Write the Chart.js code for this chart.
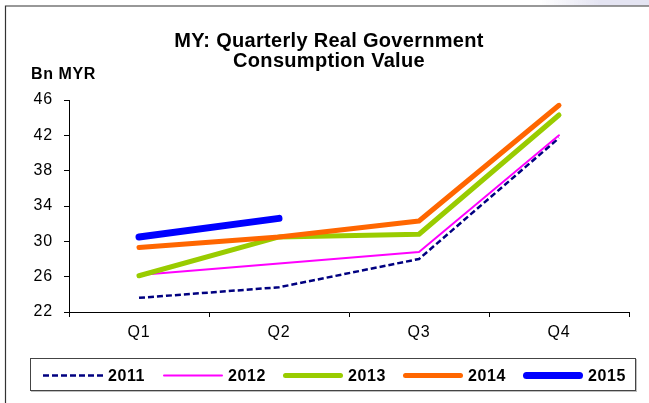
<!DOCTYPE html>
<html>
<head>
<meta charset="utf-8">
<title>MY: Quarterly Real Government Consumption Value</title>
<script src="https://cdn.jsdelivr.net/npm/chart.js@4.4.1/dist/chart.umd.min.js"></script>
<style>
    html, body { margin: 0; padding: 0; background: #fff; }
    #chartWrap { position: relative; width: 649px; height: 403px; }
    #chartWrap canvas { background: #fff; }
</style>
</head>
<body>
<div id="chartWrap"><canvas id="govChart"></canvas></div>
<script>
const QUARTERS = ['Q1', 'Q2', 'Q3', 'Q4'];
const YEARS = ['2011', '2012', '2013', '2014', '2015'];
const Y_TICKS = [22, 26, 30, 34, 38, 42, 46];

const VALUES_2011 = [23.6, 24.8, 28.0, 41.7];
const VALUES_2012 = [26.2, 27.5, 28.8, 42.0];
const VALUES_2013 = [26.1, 30.5, 30.8, 44.3];
const VALUES_2014 = [29.3, 30.5, 32.3, 45.4];
const VALUES_2015 = [30.5, 32.6];

const TITLE_LINES = ['MY: Quarterly Real Government', 'Consumption Value'];
const UNIT_LABEL = 'Bn MYR';

const FONT = '"Liberation Sans", Arial, Helvetica, sans-serif';

const SERIES_STYLE = [
    { color: '#000080', width: 2.5, dash: [6, 3], cap: 'butt' },
    { color: '#ff00ff', width: 2, dash: [], cap: 'round' },
    { color: '#99cc00', width: 5, dash: [], cap: 'round' },
    { color: '#ff6600', width: 5, dash: [], cap: 'round' },
    { color: '#0000ff', width: 7, dash: [], cap: 'round' },
];

const SERIES_VALUES = [VALUES_2011, VALUES_2012, VALUES_2013, VALUES_2014, VALUES_2015];

// frame, corner tint, title and unit label behind the plot
const backdropPlugin = {
    id: 'backdrop',
    beforeDraw(chart) {
        const { ctx, width, height } = chart;
        ctx.save();

        const tint = ctx.createLinearGradient(540, 0, 600, 0);
        tint.addColorStop(0, 'rgba(228,228,242,0)');
        tint.addColorStop(1, 'rgba(228,228,242,1)');
        ctx.fillStyle = tint;
        ctx.fillRect(540, 0, width - 540, 5.5);

        ctx.strokeStyle = '#333';
        ctx.lineWidth = 1.2;
        ctx.beginPath();
        ctx.moveTo(width, 6);
        ctx.lineTo(5.5, 6);
        ctx.lineTo(5.5, height);
        ctx.stroke();

        ctx.fillStyle = '#000';
        ctx.textAlign = 'center';
        ctx.textBaseline = 'alphabetic';
        ctx.font = `bold 20px ${FONT}`;
        ctx.letterSpacing = '0.3px';
        ctx.fillText(TITLE_LINES[0], 329, 47);
        ctx.fillText(TITLE_LINES[1], 329, 67);

        ctx.textAlign = 'left';
        ctx.font = `bold 16px ${FONT}`;
        ctx.letterSpacing = '0.6px';
        ctx.fillText(UNIT_LABEL, 31, 79);
        ctx.restore();

        // slightly wider spacing for the axis labels drawn after this hook
        ctx.letterSpacing = '0.8px';
    },
};

// boxed legend under the axis, one sample line per dataset
const boxLegendPlugin = {
    id: 'boxLegend',
    afterDraw(chart) {
        const { ctx } = chart;
        ctx.save();
        ctx.letterSpacing = '0.6px';

        ctx.fillStyle = 'rgba(0,0,0,0.25)';
        ctx.fillRect(31, 359, 606, 33);
        ctx.fillStyle = '#fff';
        ctx.fillRect(30, 358, 606, 33);
        ctx.strokeStyle = '#444';
        ctx.lineWidth = 1;
        ctx.strokeRect(30.5, 358.5, 605, 32);

        const midY = 375.5;
        chart.data.datasets.forEach((ds, i) => {
            const x0 = 43 + i * 120;
            ctx.save();
            ctx.strokeStyle = ds.borderColor;
            ctx.lineWidth = ds.borderWidth;
            ctx.lineCap = ds.borderCapStyle;
            ctx.setLineDash(ds.borderDash || []);
            const inset = ds.borderCapStyle === 'round' ? ds.borderWidth / 2 : 0;
            ctx.beginPath();
            ctx.moveTo(x0 + inset, midY);
            ctx.lineTo(x0 + 60 - inset, midY);
            ctx.stroke();
            ctx.restore();

            ctx.fillStyle = '#000';
            ctx.font = `bold 16px ${FONT}`;
            ctx.textAlign = 'left';
            ctx.textBaseline = 'middle';
            ctx.fillText(ds.label, x0 + 65, midY + 1);
        });
        ctx.restore();
    },
};

document.addEventListener('DOMContentLoaded', () => {
    const canvas = document.getElementById('govChart');

    const datasets = YEARS.map((year, i) => ({
        label: year,
        data: SERIES_VALUES[i],
        borderColor: SERIES_STYLE[i].color,
        backgroundColor: SERIES_STYLE[i].color,
        borderWidth: SERIES_STYLE[i].width,
        borderDash: SERIES_STYLE[i].dash,
        borderCapStyle: SERIES_STYLE[i].cap,
        borderJoinStyle: 'round',
        pointRadius: 0,
        pointHoverRadius: 0,
        tension: 0,
        fill: false,
        order: YEARS.length - i,
    }));

    new Chart(canvas, {
        type: 'line',
        data: { labels: QUARTERS, datasets },
        options: {
            responsive: true,
            maintainAspectRatio: false,
            animation: false,
            events: [],
            layout: { padding: { top: 100, right: 20, bottom: 0, left: 0 } },
            plugins: {
                legend: { display: false },
                title: { display: false },
                tooltip: { enabled: false },
            },
            scales: {
                x: {
                    type: 'category',
                    offset: true,
                    afterFit: (scale) => { scale.height = 91; },
                    border: { color: '#000', width: 1 },
                    grid: {
                        offset: true,
                        drawOnChartArea: false,
                        drawTicks: true,
                        tickLength: 5,
                        tickColor: '#000',
                    },
                    ticks: {
                        color: '#000',
                        padding: 6,
                        font: { family: FONT, size: 16 },
                        maxRotation: 0,
                    },
                },
                y: {
                    min: Y_TICKS[0],
                    max: Y_TICKS[Y_TICKS.length - 1],
                    afterFit: (scale) => { scale.width = 69; },
                    afterBuildTicks: (scale) => {
                        scale.ticks = Y_TICKS.map((value) => ({ value }));
                    },
                    border: { color: '#000', width: 1 },
                    grid: {
                        drawOnChartArea: false,
                        drawTicks: true,
                        tickLength: 5,
                        tickColor: '#000',
                    },
                    ticks: {
                        color: '#000',
                        padding: 11,
                        font: { family: FONT, size: 16 },
                    },
                },
            },
        },
        plugins: [backdropPlugin, boxLegendPlugin],
    });
});
</script>
</body>
</html>
